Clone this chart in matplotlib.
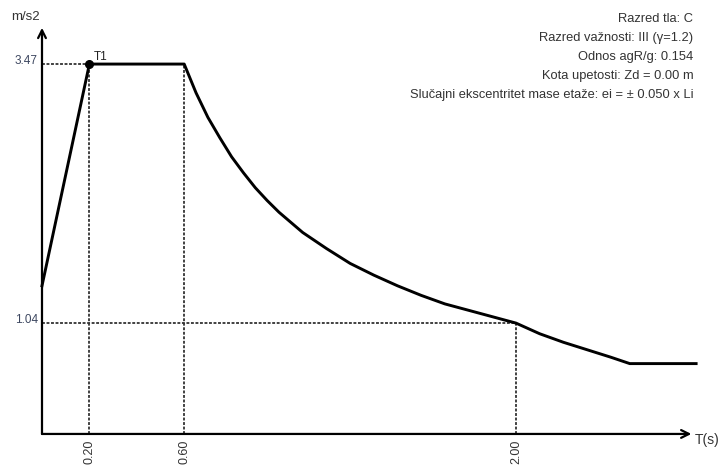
import matplotlib.pyplot as plt

plt.rcParams['font.family'] = ['Liberation Sans', 'DejaVu Sans']

# -----------------------
# DATA
# -----------------------
periods = [0.0, 0.2, 0.6, 0.65, 0.7, 0.75, 0.8, 0.85, 0.9, 0.95, 1.0, 1.1,
           1.2, 1.3, 1.4, 1.5, 1.6, 1.7, 1.8, 1.9, 2.0, 2.1, 2.2, 2.3, 2.4,
           2.48, 2.76]
accel = [1.39, 3.47, 3.47, 3.20, 2.97, 2.78, 2.60, 2.45, 2.31, 2.19, 2.08,
         1.89, 1.74, 1.60, 1.49, 1.39, 1.30, 1.22, 1.16, 1.10, 1.04, 0.94,
         0.86, 0.79, 0.72, 0.66, 0.66]

# corner periods and their spectrum values for the guide lines
guide_T = [0.20, 0.60, 2.00]
guide_val = [3.47, 3.47, 1.04]
y_marks = [3.47, 1.04]
y_mark_ends = [0.20, 2.00]

t1_T = 0.20
t1_val = 3.47

info_lines = [
    "Razred tla: C",
    "Razred važnosti: III (γ=1.2)",
    "Odnos agR/g: 0.154",
    "Kota upetosti: Zd = 0.00 m",
    "Slučajni ekscentritet mase etaže: ei = ± 0.050 x Li",
]

# -----------------------
# FIGURE
# -----------------------
fig = plt.figure(figsize=(7.21, 4.67), dpi=100)
ax = fig.add_axes([0, 0, 1, 1])
ax.set_xlim(-0.1772, 2.865)
ax.set_ylim(-0.31, 4.071)
ax.axis("off")

dot_style = dict(color="#333333", lw=1.3, linestyle=(0, (1.6, 0.9)))

# guide lines
for t, v in zip(guide_T, guide_val):
    ax.plot([t, t], [0, v], **dot_style)
for v, t in zip(y_marks, y_mark_ends):
    ax.plot([0, t], [v, v], **dot_style)

# axes with arrows
ax.annotate("", xy=(2.74, 0), xytext=(0, 0),
            arrowprops=dict(arrowstyle="->", color="black", lw=1.6,
                            mutation_scale=14, shrinkA=0, shrinkB=0))
ax.annotate("", xy=(0, 3.81), xytext=(0, 0),
            arrowprops=dict(arrowstyle="->", color="black", lw=1.6,
                            mutation_scale=14, shrinkA=0, shrinkB=0))

# spectrum
ax.plot(periods, accel, color="black", lw=2.1)
ax.plot([t1_T], [t1_val], "o", color="black", ms=5.5)
ax.text(t1_T + 0.02, t1_val + 0.01, "T1", fontsize=8.5, color="#222222",
        ha="left", va="bottom")

# tick labels
for t in guide_T:
    ax.text(t, -0.05, f"{t:.2f}", rotation=90, fontsize=9, color="#333333",
            ha="center", va="top")
for v in y_marks:
    ax.text(-0.018, v + 0.03, f"{v:.2f}", fontsize=8.5, color="#3d4760",
            ha="right", va="center")

ax.text(-0.068, 3.91, "m/s2", fontsize=9.5, color="#333333", ha="center",
        va="center")
ax.text(2.755, -0.056, "T(s)", fontsize=10, color="#333333", ha="left",
        va="center")

# info block
y0 = 434 - 19
for i, line in enumerate(info_lines):
    ax.text(2.748, (y0 - 19 * i) / 106.6, line, fontsize=9.3, color="#333333",
            ha="right", va="center")

fig.savefig("out.png", dpi=100)
